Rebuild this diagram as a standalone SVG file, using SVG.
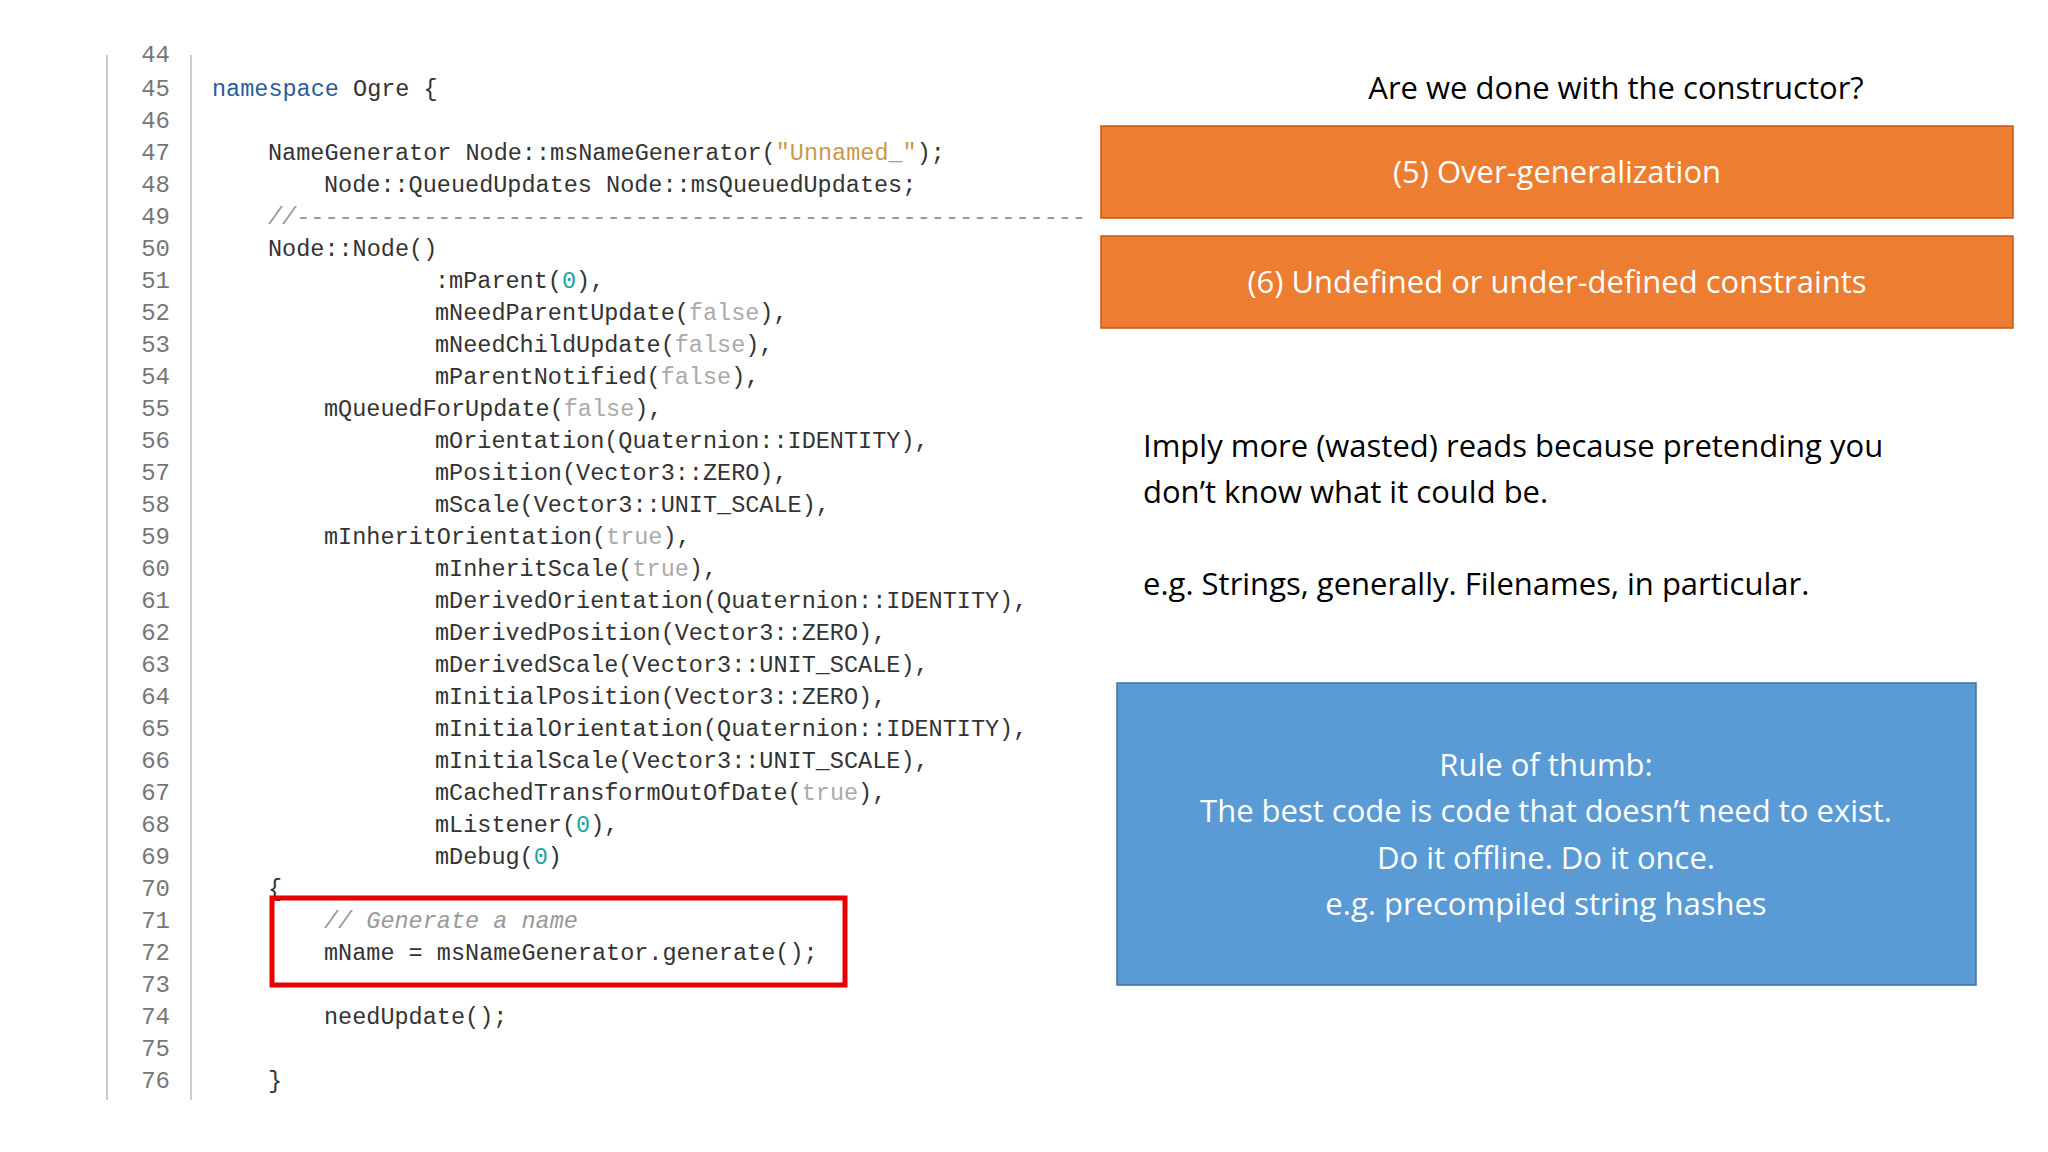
<svg xmlns="http://www.w3.org/2000/svg" width="2048" height="1152" viewBox="0 0 2048 1152">
<style>
.ln{font-family:"Liberation Mono",monospace;font-size:24px;fill:#777;text-anchor:end}
.c{font-family:"Liberation Mono",monospace;font-size:23.5px;fill:#333}
.kw{fill:#2a5d9b}.st{fill:#c99a4a}.nu{fill:#1fa3a0}.bo{fill:#aaa}.cm{fill:#999;font-style:italic}
.t{font-family:"Open Sans","Noto Sans",sans-serif;font-size:31px;fill:#000}
.w{font-family:"Open Sans","Noto Sans",sans-serif;font-size:31px;fill:#fff;text-anchor:middle}
.or{fill:#ed7d31;stroke:#c55a11;stroke-width:1.5}
</style>
<rect width="2048" height="1152" fill="#fff"/>
<g id="code">
<line x1="107" y1="55" x2="107" y2="1100" stroke="#ccc" stroke-width="2"/>
<line x1="191" y1="55" x2="191" y2="1100" stroke="#ccc" stroke-width="2"/>
<text class="ln" x="170" y="62">44</text>
<text class="ln" x="170" y="96">45</text><text class="ln" x="170" y="128">46</text><text class="ln" x="170" y="160">47</text><text class="ln" x="170" y="192">48</text><text class="ln" x="170" y="224">49</text><text class="ln" x="170" y="256">50</text><text class="ln" x="170" y="288">51</text><text class="ln" x="170" y="320">52</text><text class="ln" x="170" y="352">53</text><text class="ln" x="170" y="384">54</text><text class="ln" x="170" y="416">55</text><text class="ln" x="170" y="448">56</text><text class="ln" x="170" y="480">57</text><text class="ln" x="170" y="512">58</text><text class="ln" x="170" y="544">59</text><text class="ln" x="170" y="576">60</text><text class="ln" x="170" y="608">61</text><text class="ln" x="170" y="640">62</text><text class="ln" x="170" y="672">63</text><text class="ln" x="170" y="704">64</text><text class="ln" x="170" y="736">65</text><text class="ln" x="170" y="768">66</text><text class="ln" x="170" y="800">67</text><text class="ln" x="170" y="832">68</text><text class="ln" x="170" y="864">69</text><text class="ln" x="170" y="896">70</text><text class="ln" x="170" y="928">71</text><text class="ln" x="170" y="960">72</text><text class="ln" x="170" y="992">73</text><text class="ln" x="170" y="1024">74</text><text class="ln" x="170" y="1056">75</text><text class="ln" x="170" y="1088">76</text>
<text class="c" x="212" y="96"><tspan class="kw">namespace</tspan> Ogre {</text>
<text class="c" x="268" y="160">NameGenerator Node::msNameGenerator(<tspan class="st">"Unnamed_"</tspan>);</text>
<text class="c" x="324" y="192">Node::QueuedUpdates Node::msQueuedUpdates;</text>
<text class="c cm" x="268" y="224">//--------------------------------------------------------</text>
<text class="c" x="268" y="256">Node::Node()</text>
<text class="c" x="435" y="288">:mParent(<tspan class="nu">0</tspan>),</text>
<text class="c" x="435" y="320">mNeedParentUpdate(<tspan class="bo">false</tspan>),</text>
<text class="c" x="435" y="352">mNeedChildUpdate(<tspan class="bo">false</tspan>),</text>
<text class="c" x="435" y="384">mParentNotified(<tspan class="bo">false</tspan>),</text>
<text class="c" x="324" y="416">mQueuedForUpdate(<tspan class="bo">false</tspan>),</text>
<text class="c" x="435" y="448">mOrientation(Quaternion::IDENTITY),</text>
<text class="c" x="435" y="480">mPosition(Vector3::ZERO),</text>
<text class="c" x="435" y="512">mScale(Vector3::UNIT_SCALE),</text>
<text class="c" x="324" y="544">mInheritOrientation(<tspan class="bo">true</tspan>),</text>
<text class="c" x="435" y="576">mInheritScale(<tspan class="bo">true</tspan>),</text>
<text class="c" x="435" y="608">mDerivedOrientation(Quaternion::IDENTITY),</text>
<text class="c" x="435" y="640">mDerivedPosition(Vector3::ZERO),</text>
<text class="c" x="435" y="672">mDerivedScale(Vector3::UNIT_SCALE),</text>
<text class="c" x="435" y="704">mInitialPosition(Vector3::ZERO),</text>
<text class="c" x="435" y="736">mInitialOrientation(Quaternion::IDENTITY),</text>
<text class="c" x="435" y="768">mInitialScale(Vector3::UNIT_SCALE),</text>
<text class="c" x="435" y="800">mCachedTransformOutOfDate(<tspan class="bo">true</tspan>),</text>
<text class="c" x="435" y="832">mListener(<tspan class="nu">0</tspan>),</text>
<text class="c" x="435" y="864">mDebug(<tspan class="nu">0</tspan>)</text>
<text class="c" x="268" y="896">{</text>
<text class="c cm" x="324" y="928">// Generate a name</text>
<text class="c" x="324" y="960">mName = msNameGenerator.generate();</text>
<text class="c" x="324" y="1024">needUpdate();</text>
<text class="c" x="268" y="1088">}</text>
</g>
<g id="highlight"><rect x="272" y="898" width="573" height="87" fill="none" stroke="#e60000" stroke-width="5"/></g>
<g id="title"><text class="t" x="1616" y="99" text-anchor="middle">Are we done with the constructor?</text></g>
<g id="box5"><rect class="or" x="1101" y="126" width="912" height="92"/><text class="w" x="1557" y="183">(5) Over-generalization</text></g>
<g id="box6"><rect class="or" x="1101" y="236" width="912" height="92"/><text class="w" x="1557" y="293">(6) Undefined or under-defined constraints</text></g>
<g id="para">
<text class="t" x="1143" y="457">Imply more (wasted) reads because pretending you</text>
<text class="t" x="1143" y="503">don’t know what it could be.</text>
<text class="t" x="1143" y="595">e.g. Strings, generally. Filenames, in particular.</text>
</g>
<g id="rule"><rect x="1117" y="683" width="859" height="302" fill="#5b9bd5" stroke="#41719c" stroke-width="1.5"/>
<text class="w" x="1546" y="776">Rule of thumb:</text>
<text class="w" x="1546" y="822">The best code is code that doesn’t need to exist.</text>
<text class="w" x="1546" y="869">Do it offline. Do it once.</text>
<text class="w" x="1546" y="915">e.g. precompiled string hashes</text>
</g>
</svg>
